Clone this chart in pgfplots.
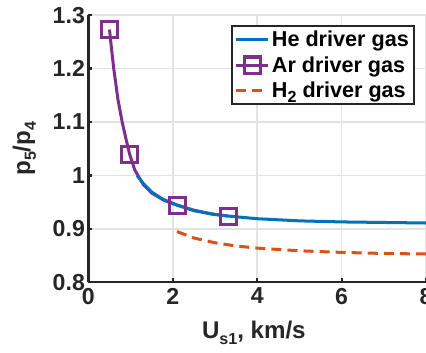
\documentclass[border=0pt]{standalone}
\usepackage{pgfplots}
\pgfplotsset{compat=1.18}
\usepackage{fontspec}
\setmainfont{Liberation Sans}
\definecolor{mblue}{RGB}{0,114,189}
\definecolor{mpurple}{RGB}{126,47,142}
\definecolor{morange}{RGB}{217,83,25}
\newcommand{\sub}[1]{\raisebox{-0.45ex}{\fontsize{16}{16}\selectfont #1}}
\begin{document}
\begin{tikzpicture}[trim axis right]
\begin{axis}[
  scale only axis, width=336pt, height=266pt,
  xmin=0, xmax=8, ymin=0.8, ymax=1.3,
  xtick={0,2,4,6,8}, ytick={0.8,0.9,1,1.1,1.2,1.3},
  yticklabels={0.8,0.9,1,1.1,1.2,1.3},
  xticklabels={0,2,4,6,8},
  axis x line*=bottom, axis y line*=left,
  axis line style={-, line width=2.2pt, black!85},
  tick style={line width=2.2pt, black!85},
  major tick length=4pt,
  tick align=inside,
  grid=major,
  major grid style={line width=1.6pt, gray!22},
  ticklabel style={font=\bfseries\fontsize{23}{23}\selectfont, text=black!85},
  xticklabel style={yshift=-2pt},
  /pgf/number format/assume math mode=true,
  xlabel={\bfseries U\sub{s1}, km/s},
  ylabel={\bfseries p\sub{5}/p\sub{4}},
  label style={font=\fontsize{24}{24}\selectfont, text=black!85},
  ylabel style={at={(axis description cs:-0.19,0.5)}, anchor=center},
  xlabel style={at={(axis description cs:0.49,-0.19)}, anchor=center},
  legend style={at={(0.967,0.962)}, anchor=north east, draw=black!85, line width=2pt,
    font=\bfseries\fontsize{21.5}{21.5}\selectfont, row sep=4pt, inner sep=3pt,
    cells={anchor=west}},
  legend cell align=left,
  legend image code/.code={\draw[#1] (0pt,0pt) -- (32pt,0pt);
    \path[#1,solid] plot coordinates {(16pt,0pt)};},
  clip=false,
]
\addplot[mpurple, line width=3pt, forget plot] coordinates {
(0.5,1.273)(0.55,1.235)(0.6,1.200)(0.7,1.142)(0.8,1.100)(0.9,1.065)(0.976,1.040)
(1.1,1.010)(1.3,0.983)(1.5,0.967)(1.8,0.953)(2.12,0.944)(2.5,0.935)(2.9,0.928)(3.31,0.924)};
\addplot[mblue, line width=3pt] coordinates {
(1.15,1.0)(1.3,0.985)(1.5,0.969)(1.75,0.956)(2.12,0.944)(2.5,0.934)(3,0.927)(3.31,0.924)
(4,0.919)(5,0.915)(6,0.913)(7,0.912)(8,0.911)};
\addlegendentry{He driver gas}
\addplot[mpurple, line width=3pt, only marks, mark=square, mark size=8pt,
  mark options={line width=3pt}] coordinates {
(0.5,1.273)(0.976,1.040)(2.12,0.944)(3.31,0.924)};
\addlegendentry{Ar driver gas}
\addplot[morange, line width=3pt, dash pattern=on 10pt off 6pt] coordinates {
(2.1,0.895)(2.5,0.883)(3,0.874)(3.5,0.868)(4,0.864)(5,0.859)(6,0.856)(7,0.854)(8,0.853)};
\addlegendentry{H\sub{2} driver gas}
\end{axis}
\path ([yshift=15pt]current axis.north west);
\path ([xshift=-88pt,yshift=-70pt]current axis.south west);
\end{tikzpicture}
\end{document}
